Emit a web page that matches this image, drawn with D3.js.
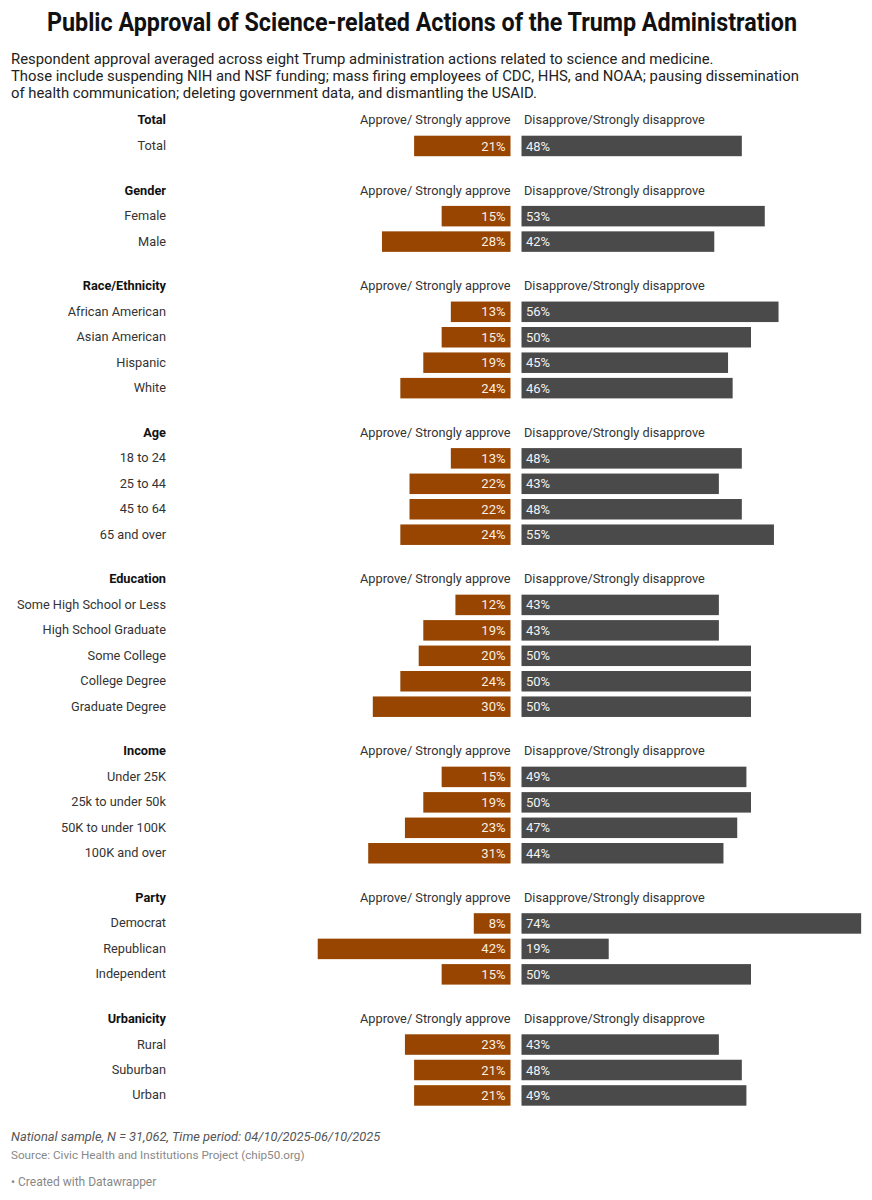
<!DOCTYPE html>
<html>
<head>
<meta charset="utf-8">
<script src="https://cdn.jsdelivr.net/npm/d3@7"></script>
<style>
  body { margin: 0; background: #fff; }
  svg { display: block; font-family: Roboto, "Noto Sans", sans-serif; }
</style>
</head>
<body>
<svg id="chart" width="872" height="1200"></svg>
<script>
const titleText = "Public Approval of Science-related Actions of the Trump Administration";
const subtitleLines = [
  "Respondent approval averaged across eight Trump administration actions related to science and medicine.",
  "Those include suspending NIH and NSF funding; mass firing employees of CDC, HHS, and NOAA; pausing dissemination",
  "of health communication; deleting government data, and dismantling the USAID."
];
const seriesNames = ["Approve/ Strongly approve", "Disapprove/Strongly disapprove"];
const groups = ["Total", "Gender", "Race/Ethnicity", "Age", "Education", "Income", "Party", "Urbanicity"];
const categories = [
  "Total",
  "Female", "Male",
  "African American", "Asian American", "Hispanic", "White",
  "18 to 24", "25 to 44", "45 to 64", "65 and over",
  "Some High School or Less", "High School Graduate", "Some College", "College Degree", "Graduate Degree",
  "Under 25K", "25k to under 50k", "50K to under 100K", "100K and over",
  "Democrat", "Republican", "Independent",
  "Rural", "Suburban", "Urban"
];
const categoryGroup = [
  "Total",
  "Gender", "Gender",
  "Race/Ethnicity", "Race/Ethnicity", "Race/Ethnicity", "Race/Ethnicity",
  "Age", "Age", "Age", "Age",
  "Education", "Education", "Education", "Education", "Education",
  "Income", "Income", "Income", "Income",
  "Party", "Party", "Party",
  "Urbanicity", "Urbanicity", "Urbanicity"
];
const approve = [21, 15, 28, 13, 15, 19, 24, 13, 22, 22, 24, 12, 19, 20, 24, 30, 15, 19, 23, 31, 8, 42, 15, 23, 21, 21];
const disapprove = [48, 53, 42, 56, 50, 45, 46, 48, 43, 48, 55, 43, 43, 50, 50, 50, 49, 50, 47, 44, 74, 19, 50, 43, 48, 49];
const noteText = "National sample, N = 31,062, Time period: 04/10/2025-06/10/2025";
const sourceText = "Source: Civic Health and Institutions Project (chip50.org)";
const creditText = "• Created with Datawrapper";

const svg = d3.select("#chart");

// Title
svg.append("text")
  .attr("x", 47).attr("y", 31)
  .attr("font-size", 25).attr("font-weight", 700).attr("fill", "#111")
  .attr("textLength", 750).attr("lengthAdjust", "spacingAndGlyphs")
  .text(titleText);

// Subtitle
svg.append("g").selectAll("text").data(subtitleLines).join("text")
  .attr("x", 11).attr("y", (d, i) => 64 + i * 17)
  .attr("font-size", 14.85).attr("fill", "#222")
  .text(d => d);

// Layout rows: header row per group, then category rows
const rows = [];
let idx = 0;
groups.forEach((g, gi) => {
  rows.push({ type: "header", label: g, idx: idx++, gi });
  categories.forEach((c, ci) => {
    if (categoryGroup[ci] === g) {
      rows.push({ type: "row", label: c, idx: idx++, gi, a: approve[ci], d: disapprove[ci] });
    }
  });
});
const pitch = 25.45, groupGap = 19.3, y0 = 120;
const yPos = r => y0 + r.idx * pitch + r.gi * groupGap;

const x = d3.scaleLinear().domain([0, 100]).range([0, 459]);
const approveRight = 510.5, disLeft = 521.5, barH = 20.5;
const approveColor = "#974500", disColor = "#4a4a4a";
const fs = 12.75;

const g = svg.append("g");

// labels on the left
g.selectAll("text.lab").data(rows).join("text")
  .attr("class", "lab")
  .attr("x", 166).attr("y", d => yPos(d))
  .attr("dy", "0.35em")
  .attr("text-anchor", "end")
  .attr("font-size", fs)
  .attr("font-weight", d => d.type === "header" ? 700 : 400)
  .attr("fill", d => d.type === "header" ? "#111" : "#333")
  .text(d => d.label);

const headers = rows.filter(r => r.type === "header");
const dataRows = rows.filter(r => r.type === "row");

g.selectAll("text.hA").data(headers).join("text")
  .attr("class", "hA")
  .attr("x", approveRight).attr("y", d => yPos(d)).attr("dy", "0.35em")
  .attr("text-anchor", "end").attr("font-size", fs).attr("fill", "#333")
  .text(seriesNames[0]);
g.selectAll("text.hD").data(headers).join("text")
  .attr("class", "hD")
  .attr("x", disLeft + 2.5).attr("y", d => yPos(d)).attr("dy", "0.35em")
  .attr("text-anchor", "start").attr("font-size", fs).attr("fill", "#333")
  .text(seriesNames[1]);

// bars
g.selectAll("rect.a").data(dataRows).join("rect")
  .attr("class", "a")
  .attr("x", d => approveRight - x(d.a))
  .attr("y", d => yPos(d) - barH / 2 + 0.5)
  .attr("width", d => x(d.a))
  .attr("height", barH)
  .attr("fill", approveColor);
g.selectAll("rect.d").data(dataRows).join("rect")
  .attr("class", "d")
  .attr("x", disLeft)
  .attr("y", d => yPos(d) - barH / 2 + 0.5)
  .attr("width", d => x(d.d))
  .attr("height", barH)
  .attr("fill", disColor);

// value labels
g.selectAll("text.va").data(dataRows).join("text")
  .attr("class", "va")
  .attr("x", approveRight - 5).attr("y", d => yPos(d) + 0.5).attr("dy", "0.35em")
  .attr("text-anchor", "end").attr("font-size", 13).attr("fill", "#fbeee2")
  .text(d => d.a + "%");
g.selectAll("text.vd").data(dataRows).join("text")
  .attr("class", "vd")
  .attr("x", disLeft + 4.5).attr("y", d => yPos(d) + 0.5).attr("dy", "0.35em")
  .attr("text-anchor", "start").attr("font-size", 13).attr("fill", "#f2f2f2")
  .text(d => d.d + "%");

// footer
svg.append("text").attr("x", 11).attr("y", 1141)
  .attr("font-size", 12.85).attr("font-style", "italic").attr("fill", "#555")
  .text(noteText);
svg.append("text").attr("x", 11).attr("y", 1159)
  .attr("font-size", 11.7).attr("fill", "#888")
  .text(sourceText);
svg.append("text").attr("x", 11).attr("y", 1186)
  .attr("font-size", 12).attr("fill", "#888")
  .text(creditText);
</script>
</body>
</html>
